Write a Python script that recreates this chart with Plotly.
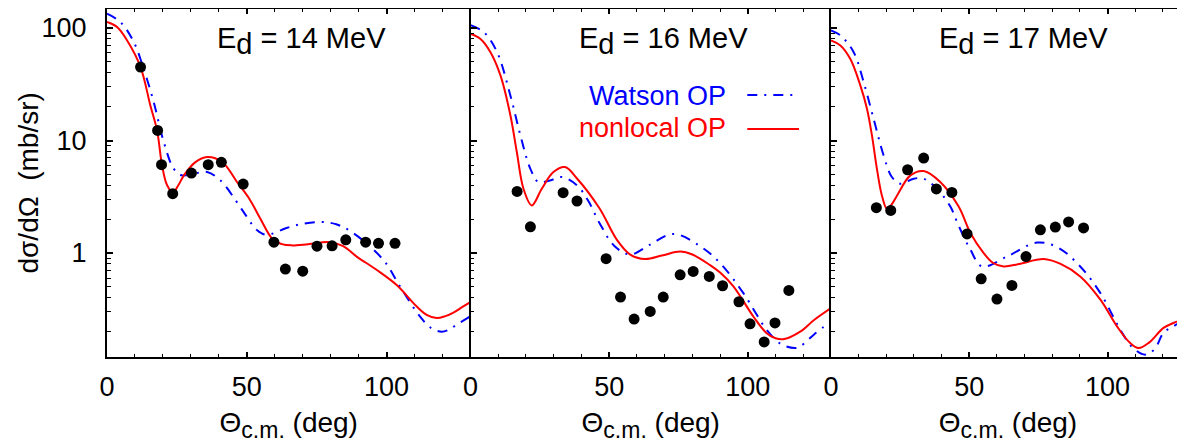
import plotly.graph_objects as go

# ---------------- data ----------------
energies = ["14", "16", "17"]

# experimental points
exp14_x = [12.0, 18.1, 19.5, 23.5, 30.2, 36.2, 40.9, 48.7, 59.7, 63.8, 70.0, 75.1, 80.5, 85.4, 92.5, 97.1, 103.0]
exp14_y = [45, 12.3, 6.1, 3.37, 5.14, 6.1, 6.4, 4.1, 1.25, 0.72, 0.69, 1.15, 1.16, 1.31, 1.25, 1.22, 1.22]

exp16_x = [16.8, 21.6, 33.4, 38.4, 48.9, 54.1, 59.0, 64.8, 69.5, 75.6, 80.3, 86.1, 90.9, 96.8, 100.8, 105.9, 109.8, 114.8]
exp16_y = [3.53, 1.71, 3.44, 2.90, 0.89, 0.406, 0.259, 0.303, 0.406, 0.641, 0.687, 0.62, 0.512, 0.369, 0.235, 0.162, 0.239, 0.465]

exp17_x = [16.4, 21.6, 27.7, 33.5, 38.1, 43.7, 49.2, 54.3, 60.0, 65.4, 70.5, 75.7, 81.1, 85.9, 91.3]
exp17_y = [2.53, 2.39, 5.5, 6.99, 3.71, 3.46, 1.48, 0.59, 0.39, 0.515, 0.93, 1.61, 1.70, 1.89, 1.67]

# nonlocal OP curves
nl14_x = [0, 3.6, 7.2, 12.0, 15.5, 17.9, 19.7, 21.5, 23.6, 25.5, 27.5, 31.5, 35.8, 41.2, 46.5, 51.1, 54.7, 59.4, 62.5, 66.0, 72.0, 79.7, 84.5, 89.3, 96.4, 103.6, 110.7, 114.5, 117.9, 121.0, 123.9, 127.0, 129.8]
nl14_y = [113, 102, 77.6, 45, 20.5, 12.3, 6.0, 4.0, 3.45, 4.0, 4.9, 6.4, 7.13, 6.44, 4.28, 2.98, 2.05, 1.31, 1.2, 1.17, 1.2, 1.25, 1.15, 0.93, 0.71, 0.52, 0.336, 0.28, 0.264, 0.275, 0.296, 0.33, 0.364]

nl16_x = [0, 3.6, 7.2, 10.8, 14.4, 16.7, 19.1, 22.1, 25.7, 29.9, 34.1, 38.4, 46.5, 52.8, 57.6, 63.0, 69.0, 75.6, 80.0, 86.4, 90.0, 94.8, 102.0, 106.8, 110.0, 113.1, 118.9, 124.0, 130.0]
nl16_y = [89, 80, 61, 37.9, 16.7, 7.9, 3.73, 2.65, 3.73, 5.25, 5.81, 4.6, 2.5, 1.31, 0.97, 0.885, 0.95, 1.03, 0.97, 0.78, 0.67, 0.505, 0.273, 0.194, 0.175, 0.172, 0.2, 0.255, 0.324]

nl17_x = [0, 3.4, 7.0, 10.6, 13.0, 14.8, 16.6, 18.4, 20.2, 21.9, 23.9, 28.7, 33.5, 39.5, 46.1, 50.4, 55.2, 58.5, 62.4, 68.0, 76.9, 83.0, 90.1, 97.4, 103.4, 108.0, 111.2, 115.0, 120.2, 124.0, 128.1]
nl17_y = [77.6, 70, 53, 30.9, 19.2, 11.1, 5.6, 3.25, 2.48, 2.7, 3.25, 4.9, 5.36, 4.28, 2.6, 1.51, 1.0, 0.82, 0.76, 0.8, 0.885, 0.8, 0.62, 0.385, 0.223, 0.16, 0.143, 0.16, 0.216, 0.24, 0.264]

# Watson OP curves
wa14_x = [0, 4.8, 9.6, 13.1, 16.7, 20.3, 23.9, 26.8, 31.0, 35.8, 40.6, 46.0, 49.9, 53.5, 57.0, 64.2, 70.0, 76.7, 82.0, 88.0, 98.8, 104.8, 111.9, 116.0, 119.7, 122.5, 125.0, 129.8]
wa14_y = [134, 113, 75, 43.5, 22, 9.7, 5.6, 4.9, 5.07, 5.25, 4.42, 2.94, 2.12, 1.61, 1.45, 1.67, 1.82, 1.89, 1.8, 1.51, 0.87, 0.505, 0.273, 0.215, 0.20, 0.21, 0.23, 0.273]

wa16_x = [0, 4.8, 9.6, 14.4, 18.0, 21.6, 24.5, 28.7, 32.9, 38.4, 42.5, 46.5, 52.0, 57.6, 64.8, 73.2, 82.8, 90.0, 98.4, 106.8, 112.0, 117.0, 118.9, 124.0, 130.0]
wa16_y = [106, 92, 61, 25, 11.1, 5.6, 4.28, 4.42, 4.74, 3.99, 2.9, 1.85, 1.15, 0.97, 1.19, 1.48, 1.15, 0.815, 0.44, 0.208, 0.155, 0.143, 0.148, 0.19, 0.247]

wa17_x = [0, 3.4, 8.2, 11.8, 15.4, 19.0, 22.0, 25.1, 29.9, 33.5, 38.3, 43.1, 46.1, 50.4, 54.6, 63.6, 74.5, 82.0, 90.1, 97.4, 104.6, 109.0, 113.6, 117.0, 120.2, 124.0, 128.1]
wa17_y = [95.4, 86, 61, 33.1, 15.6, 7.4, 4.74, 4.13, 4.58, 4.58, 3.73, 2.6, 1.76, 1.07, 0.76, 0.93, 1.24, 1.12, 0.76, 0.44, 0.208, 0.145, 0.125, 0.14, 0.195, 0.225, 0.255]

y_ticks = [1, 10, 100]
y_minor = [0.2, 0.3, 0.4, 0.5, 0.6, 0.7, 0.8, 0.9, 2, 3, 4, 5, 6, 7, 8, 9, 20, 30, 40, 50, 60, 70, 80, 90]
x_ticks = [0, 50, 100]

legend_names = ["Watson OP", "nonlocal OP"]

# ---------------- figure ----------------
FONT = "Liberation Sans, Arial, sans-serif"
BLUE = "#0000ff"
RED = "#ff0000"
DASH = "10px,7px,2px,7px"
Y_RANGE = [-0.924, 2.169]

fig = go.Figure()

panels = [
    (exp14_x, exp14_y, nl14_x, nl14_y, wa14_x, wa14_y),
    (exp16_x, exp16_y, nl16_x, nl16_y, wa16_x, wa16_y),
    (exp17_x, exp17_y, nl17_x, nl17_y, wa17_x, wa17_y),
]
for i, (ex, ey, nx, ny, wx, wy) in enumerate(panels):
    xa = "x" if i == 0 else f"x{i+1}"
    ya = "y" if i == 0 else f"y{i+1}"
    fig.add_trace(go.Scatter(x=wx, y=wy, mode="lines", xaxis=xa, yaxis=ya,
                             line=dict(color=BLUE, width=2, dash=DASH, shape="spline", smoothing=1.0),
                             name=legend_names[0], showlegend=False))
    fig.add_trace(go.Scatter(x=nx, y=ny, mode="lines", xaxis=xa, yaxis=ya,
                             line=dict(color=RED, width=2, shape="spline", smoothing=1.0),
                             name=legend_names[1], showlegend=False))
    fig.add_trace(go.Scatter(x=ex, y=ey, mode="markers", xaxis=xa, yaxis=ya,
                             marker=dict(color="black", size=11, symbol="circle"),
                             showlegend=False))

# page body has an 8px margin: work in page pixels, convert to figure pixels
OFF = 8
W, H = 1185 - OFF, 443 - OFF
PLOT_L, PLOT_T, PLOT_B, PLOT_R = 107, 9, 357, 1185   # page pixels
ML, MT = PLOT_L - OFF, PLOT_T - OFF
MB = H - (PLOT_B - OFF)
MR = W - (PLOT_R - OFF)
PW = PLOT_R - PLOT_L
PH = PLOT_B - PLOT_T
def px2x(p):
    return (p - PLOT_L) / PW
def py2y(p):
    return (PLOT_B - p) / PH

domains = [[0, px2x(470.5)], [px2x(470.5), px2x(831)], [px2x(831), 1.0]]
xranges = [[0, 130], [0, 130], [0, (1185 - 831) / 2.766]]

axis_common = dict(showline=True, linecolor="black", linewidth=2, ticks="inside",
                   tickcolor="black", tickfont=dict(family=FONT, size=27, color="black"),
                   showgrid=False, zeroline=False)
y_minor_style = dict(tickvals=y_minor, ticks="inside", ticklen=3.5, tickwidth=1, tickcolor="black")

layout = dict(width=W, height=H, margin=dict(l=ML, r=MR, t=MT, b=MB, autoexpand=False),
              paper_bgcolor="white", plot_bgcolor="white", showlegend=False,
              font=dict(family=FONT, color="black", size=27))
for i in range(3):
    sfx = "" if i == 0 else str(i + 1)
    layout["xaxis" + sfx] = dict(axis_common, domain=domains[i], range=xranges[i],
                                 anchor="y" + sfx, tickvals=x_ticks, ticklen=5, tickwidth=1.5,
                                 mirror="allticks", ticklabelstandoff=5,
                                 minor=dict(dtick=10, tick0=0, ticks="inside", ticklen=3, tickwidth=1, tickcolor="black"),
                                 title=dict(text="\u0398<sub><span style='font-size:23px'>c.m.</span></sub> (deg)",
                                            standoff=20, font=dict(family=FONT, size=28, color="black")))
    layout["yaxis" + sfx] = dict(axis_common, type="log", domain=[0, 1], range=Y_RANGE,
                                 anchor="x" + sfx, tickvals=y_ticks, ticktext=[str(v) for v in y_ticks],
                                 ticklen=6, tickwidth=1.5, mirror=False,
                                 showticklabels=(i == 0), ticklabelstandoff=13,
                                 minor=y_minor_style)
# right-side (inward) ticks for panels 1 and 2, without a second line
for i in range(2):
    sfx = "" if i == 0 else str(i + 1)
    layout[f"yaxis{i + 4}"] = dict(type="log", range=Y_RANGE, overlaying="y" + sfx, anchor="x" + sfx,
                                   side="right", showline=False, showgrid=False, zeroline=False,
                                   ticks="inside", tickcolor="black", ticklen=6, tickwidth=1.5,
                                   tickvals=y_ticks, showticklabels=False, minor=y_minor_style)
fig.update_layout(**layout)

# panel titles
title_x = [301.7, 663.5, 1023]
for e, tx in zip(energies, title_x):
    fig.add_annotation(xref="paper", yref="paper", x=px2x(tx), y=py2y(41), xanchor="center", yanchor="middle",
                       text=f"E<sub><span style='font-size:29px'>d</span></sub> = {e} MeV", showarrow=False,
                       font=dict(family=FONT, size=29, color="black"))

# y-axis title
fig.add_annotation(xref="paper", yref="paper", x=px2x(27.5), y=0.5, xanchor="center", yanchor="middle",
                   text="d\u03c3/d\u03a9\u00a0 (mb/sr)", textangle=-90, showarrow=False,
                   font=dict(family=FONT, size=28, color="black"))

# legend (text left, line sample right)
fig.add_annotation(xref="paper", yref="paper", x=px2x(728.3), y=py2y(95.5), xanchor="right", yanchor="middle",
                   text=legend_names[0], showarrow=False, font=dict(family=FONT, size=27, color=BLUE))
fig.add_annotation(xref="paper", yref="paper", x=px2x(728.3), y=py2y(128), xanchor="right", yanchor="middle",
                   text=legend_names[1], showarrow=False, font=dict(family=FONT, size=27, color=RED))
fig.add_shape(type="line", xref="paper", yref="paper", x0=px2x(747.3), x1=px2x(793.3), y0=py2y(95), y1=py2y(95),
              line=dict(color=BLUE, width=2, dash=DASH))
fig.add_shape(type="line", xref="paper", yref="paper", x0=px2x(747.3), x1=px2x(799), y0=py2y(129), y1=py2y(129),
              line=dict(color=RED, width=2))

fig.write_html("out.html")
